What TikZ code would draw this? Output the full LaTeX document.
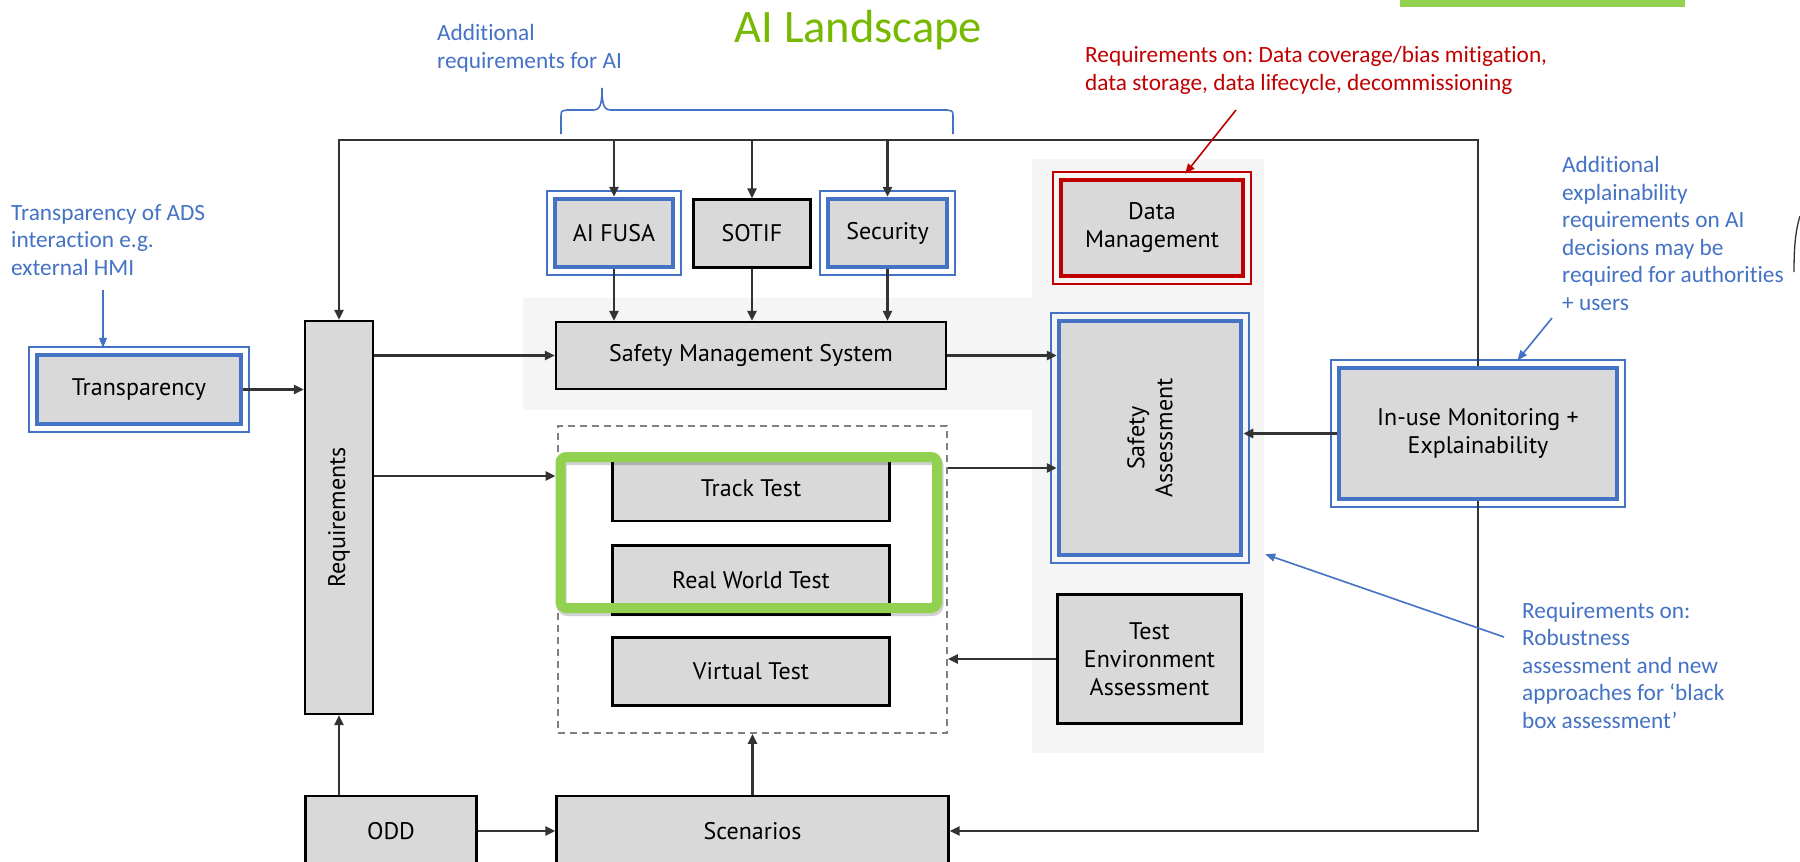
\documentclass[tikz,border=0pt]{standalone}
\usepackage{fontspec}
\setmainfont{Carlito}[Ligatures=NoCommon]
\newfontfamily\boxfont{PT Sans}
\usetikzlibrary{arrows.meta}
\definecolor{ablue}{HTML}{4472C4}
\definecolor{ared}{HTML}{C00000}
\definecolor{agreen}{HTML}{92D050}
\definecolor{tgreen}{HTML}{76B900}
\definecolor{boxgray}{HTML}{D9D9D9}
\definecolor{panelgray}{HTML}{F5F5F5}
\definecolor{lineblk}{HTML}{333333}
\definecolor{dashgray}{HTML}{808080}
\frenchspacing
\begin{document}
\begin{tikzpicture}[x=1pt,y=-1pt,
  bx/.style={draw=black,line width=2.2pt,fill=boxgray,font=\boxfont\fontsize{24}{28}\selectfont,align=center,inner sep=2pt},
  bbx/.style={bx,draw=ablue,line width=4.5pt},
  rbx/.style={bx,draw=ared,line width=4.5pt},
  rottext/.style={font=\boxfont\fontsize{24}{28}\selectfont,align=center,rotate=90,inner sep=0pt},
  arr/.style={draw=lineblk,line width=2.5pt,-{Triangle[length=10pt,width=9pt]}},
  outerln/.style={line width=1.6pt},
  note/.style={font=\fontsize{23.3}{27.5}\selectfont,align=left,anchor=base west,inner sep=0pt},
  narr/.style={line width=1.6pt,-{Triangle[length=10pt,width=8pt]}},
]
\useasboundingbox (0,0) rectangle (1800,862);
\fill[white] (0,0) rectangle (1800,862);
% background panels
\fill[panelgray] (523,298) rectangle (1032,410);
\fill[panelgray] (1032,159) rectangle (1264,753);
\fill[agreen] (1400,0) rectangle (1685,7);

% title
\node[font=\fontsize{46.5}{52}\selectfont,text=tgreen,anchor=base,inner sep=0pt] (title) at (858.5,42) {AI Landscape};

% notes (anchored at the baseline of the last line)
\node[note,text=ablue] (n1) at (11,275) {Transparency of ADS\\interaction e.g.\\external HMI};
\node[note,text=ablue] (n2) at (437,68) {Additional\\requirements for AI};
\node[note,text=ared] (n3) at (1085,90) {Requirements on: Data coverage/bias mitigation,\\data storage, data lifecycle, decommissioning};
\node[note,text=ablue] (n4) at (1562,310) {Additional\\explainability\\requirements on AI\\decisions may be\\required for authorities\\+ users};
\node[note,text=ablue] (n5) at (1522,728) {Requirements on:\\Robustness\\assessment and new\\approaches for ‘black\\box assessment’};

% brace
\draw[ablue,line width=1.6pt] (561,134) -- (561,117) .. controls (561,111) .. (567,110) -- (593,110)
  .. controls (600,110) and (602,105) .. (602,88) .. controls (602,105) and (604,110) .. (611,110)
  -- (947,110) .. controls (953,111) .. (953,117) -- (953,134);

% dashed test container
\node[draw=dashgray,line width=1.8pt,dash pattern=on 7pt off 5pt,minimum width=389pt,minimum height=307pt] (tests) at (752.5,579.5) {};

% boxes
\node[bbx,minimum width=204pt,minimum height=69pt] (transp) at (139,389.5) {Transparency};
\node[bx,minimum width=68pt,minimum height=393pt] (req) at (339,517.5) {};
\node[rottext] (reqT) at (req) {Requirements};
\node[bbx,minimum width=118pt,minimum height=68pt] (fusa) at (614,233) {AI FUSA};
\node[bx,minimum width=117pt,minimum height=68pt] (sotif) at (752,233.5) {SOTIF};
\node[bbx,minimum width=119pt,minimum height=68pt] (sec) at (887.5,233) {Security};
\node[bx,minimum width=390pt,minimum height=67pt] (sms) at (751,355.5) {Safety Management System};
\node[bx,minimum width=277pt,minimum height=65pt] (track) at (751,488.5) {Track Test};
\node[bx,minimum width=277pt,minimum height=69pt] (real) at (751,580) {Real World Test};
\node[bx,minimum width=277pt,minimum height=68pt] (virt) at (751,671.5) {Virtual Test};
\node[rbx,minimum width=182pt,minimum height=96pt] (dm) at (1152,228) {Data\\Management};
\node[bbx,minimum width=182pt,minimum height=234pt] (sa) at (1150,438) {};
\node[rottext] (saT) at (sa) {Safety\\Assessment};
\node[bx,minimum width=184pt,minimum height=129pt] (tea) at (1149.5,659) {Test\\Environment\\Assessment};
\node[bbx,minimum width=278pt,minimum height=131pt] (inuse) at (1478,433.5) {In-use Monitoring +\\Explainability};
\node[bx,minimum width=171pt,minimum height=70pt] (odd) at (391,831) {ODD};
\node[bx,minimum width=392pt,minimum height=70pt] (scen) at (752.5,831) {Scenarios};

% outer thin borders
\foreach \n in {transp,fusa,sec,sa,inuse}
  \draw[ablue,outerln] ([shift={(-5.5pt,-5.5pt)}]\n.south west) rectangle ([shift={(5.5pt,5.5pt)}]\n.north east);
\draw[ared,outerln] ([shift={(-5.5pt,-5.5pt)}]dm.south west) rectangle ([shift={(5.5pt,5.5pt)}]dm.north east);

% green highlight
\draw[black,opacity=0.18,line width=10pt,rounded corners=6pt] (561.5,460) rectangle (938.5,611);
\node[draw=agreen,line width=10pt,rounded corners=6pt,minimum width=376.5pt,minimum height=151pt] (hl) at (748.75,532.5) {};

% connectors
\coordinate (top) at (0,140);
\draw[arr] (inuse.north) |- (req.north |- top) -- (req.north);
\foreach \n in {fusa,sotif,sec}{
  \draw[arr] (\n.north |- top) -- (\n.north);
  \draw[arr] (\n.south) -- (\n.south |- sms.north);
}
\draw[arr] (transp.east) -- (transp.east -| req.west);
\draw[arr] (req.east |- sms.west) -- (sms.west);
\coordinate (y476) at (0,476);
\draw[arr] (req.east |- y476) -- (hl.west |- y476);
\draw[arr] (sms.east) -- (sms.east -| sa.west);
\coordinate (y468) at (0,468);
\draw[arr] (tests.east |- y468) -- (sa.west |- y468);
\draw[arr] (inuse.west) -- (inuse.west -| sa.east);
\draw[arr] (tea.west) -- (tea.west -| tests.east);
\draw[arr] (scen.north) -- (tests.south);
\draw[arr] (odd.north -| req.south) -- (req.south);
\draw[arr] (odd.east) -- (scen.west);
\draw[arr] (inuse.south) |- (scen.east);

% annotation arrows
\coordinate (a1) at (103,290);
\draw[narr,ablue,shorten >=5pt] (a1) -- (a1 |- transp.north);
\coordinate (r1) at (1236,110);
\draw[narr,ared,shorten >=5pt] (r1) -- ([xshift=30pt]dm.north);
\coordinate (e1) at (1552,318);
\draw[narr,ablue,shorten >=7pt] (e1) -- ([xshift=35pt]inuse.north);
\coordinate (b1) at (1504,637);
\draw[narr,ablue] (b1) -- ([shift={(22pt,3pt)}]sa.south east);

% partial curve at right edge
\draw[lineblk,line width=1.3pt] (1800,216) .. controls (1795,232) and (1794,250) .. (1794,272);
\end{tikzpicture}
\end{document}
